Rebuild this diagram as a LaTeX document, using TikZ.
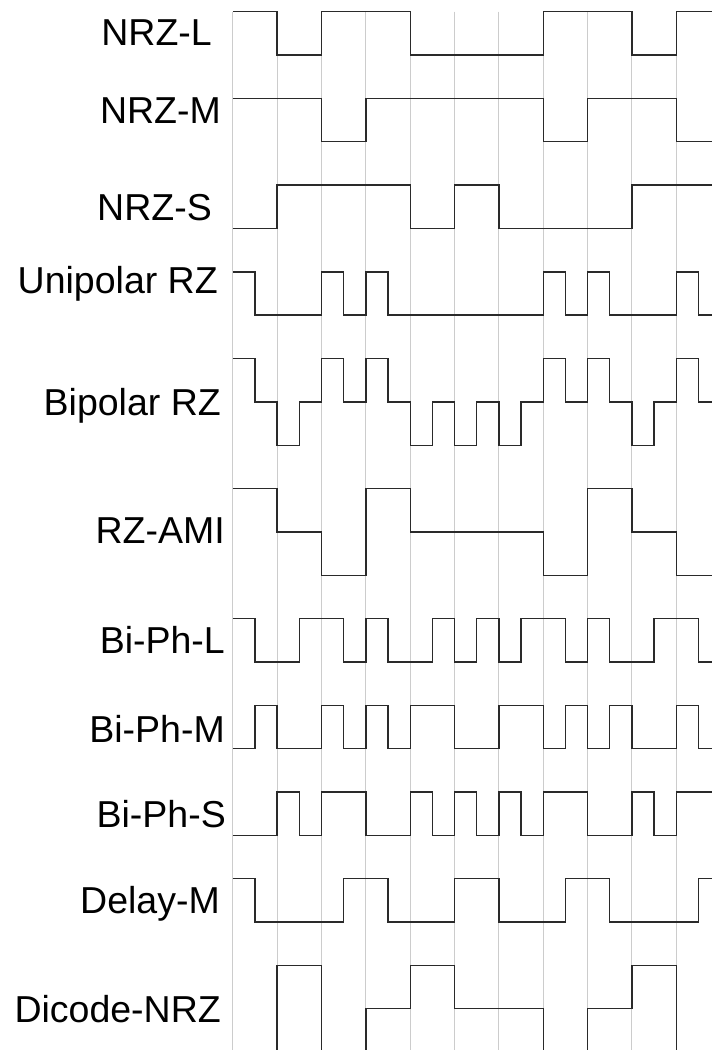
\documentclass[tikz,border=0pt]{standalone}
\usepackage{fontspec}
\setmainfont{Liberation Sans}
\definecolor{gridc}{HTML}{CCCCCC}
\definecolor{sigc}{HTML}{2A2A2A}
\tikzset{
  sig/.style={draw=sigc, line width=1.4pt, line join=miter},
  gridline/.style={draw=gridc, line width=1pt},
  lbl/.style={anchor=base east, inner sep=0pt, font=\fontsize{37.5}{40}\selectfont}
}
\newcommand\sigrow[2]{%
  \draw[sig] (232.8,{11.7+43.35*#1})
    \foreach \l [count=\i from 0] in {#2} {
      -- ({232.8+22.175*\i},{11.7+43.35*\l}) -- ({232.8+22.175*(\i+1)},{11.7+43.35*\l})
    };
}
\begin{document}
\begin{tikzpicture}[x=1pt,y=-1pt]
\useasboundingbox (0,0) rectangle (712,1050);
\fill[white] (0,0) rectangle (712,1050);
\begin{scope}
\clip (0,0) rectangle (712,1050);
% grid
\foreach \k in {0,...,10} {
  \draw[gridline] ({232.8+44.35*\k},11.7) -- ({232.8+44.35*\k},1050);
}
% signals
\sigrow{0}{0,0,1,1,0,0,0,0,1,1,1,1,1,1,0,0,0,0,1,1,0,0}
\sigrow{2}{2,2,2,2,3,3,2,2,2,2,2,2,2,2,3,3,2,2,2,2,3,3}
\sigrow{5}{5,5,4,4,4,4,4,4,5,5,4,4,5,5,5,5,5,5,4,4,4,4}
\sigrow{6}{6,7,7,7,6,7,6,7,7,7,7,7,7,7,6,7,6,7,7,7,6,7}
\sigrow{8}{8,9,10,9,8,9,8,9,10,9,10,9,10,9,8,9,8,9,10,9,8,9}
\sigrow{11}{11,11,12,12,13,13,11,11,12,12,12,12,12,12,13,13,11,11,12,12,13,13}
\sigrow{14}{14,15,15,14,14,15,14,15,15,14,15,14,15,14,14,15,14,15,15,14,14,15}
\sigrow{17}{17,16,17,17,16,17,16,17,16,16,17,17,16,16,17,16,17,16,17,17,16,17}
\sigrow{19}{19,19,18,19,18,18,19,19,18,19,18,19,18,19,18,18,19,19,18,19,18,18}
\sigrow{20}{20,21,21,21,21,20,20,21,21,21,20,20,21,21,21,20,20,21,21,21,21,20}
\sigrow{24}{24,24,22,22,24,24,23,23,22,22,23,23,23,23,24,24,23,23,22,22,24,24}
\end{scope}
% labels
\node[lbl] (nrzl) at (212,45) {NRZ-L};
\node[lbl] (nrzm) at (221,123) {NRZ-M};
\node[lbl] (nrzs) at (212,220) {NRZ-S};
\node[lbl] (unirz) at (218,293) {Unipolar RZ};
\node[lbl] (biprz) at (221,415) {Bipolar RZ};
\node[lbl] (rzami) at (225,543) {RZ-AMI};
\node[lbl] (bphl) at (225,653) {Bi-Ph-L};
\node[lbl] (bphm) at (225,742) {Bi-Ph-M};
\node[lbl] (bphs) at (226,827) {Bi-Ph-S};
\node[lbl] (delm) at (220,913) {Delay-M};
\node[lbl] (dicode) at (221,1022) {Dicode-NRZ};
\end{tikzpicture}
\end{document}
